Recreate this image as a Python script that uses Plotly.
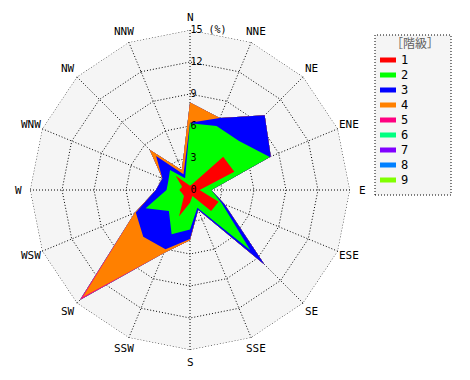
import numpy as np
import plotly.graph_objects as go

directions = ["N", "NNE", "NE", "ENE", "E", "ESE", "SE", "SSE",
              "S", "SSW", "SW", "WSW", "W", "WNW", "NW", "NNW"]

class_names = ["1", "2", "3", "4", "5", "6", "7", "8", "9"]
class_colors = ["#FF0000", "#00FF00", "#0000FF", "#FF8000", "#FF0080",
                "#00FF80", "#8000FF", "#0080FF", "#80FF00"]

# frequency (%) of each class per direction
class1 = [0.4, 0.6, 4.4, 4.5, 0.9, 2.9, 2.8, 0.6, 1.2, 2.7, 0.8, 0.8, 1.0, 0.8, 1.9, 0.6]
class2 = [5.85, 5.9, 2.1, 3.6, 1.1, 0.3, 5.2, 1.2, 2.5, 1.8, 2.0, 3.7, 1.2, 1.4, 0.75, 0.6]
class3 = [0.05, 0.8, 3.4, 0.1, 0.0, 0.3, 1.9, 0.2, 0.9, 1.5, 3.4, 1.0, 1.0, 0.6, 1.85, 0.4]
class4 = [1.9, 0.0, 0.0, 0.0, 0.0, 0.0, 0.0, 0.0, 0.1, 0.4, 8.0, 0.1, 0.0, 0.0, 0.85, 0.4]
class5 = [0.0, 0.0, 0.0, 0.0, 0.0, 0.0, 0.0, 0.0, 0.0, 0.0, 0.4, 0.0, 0.0, 0.0, 0.0, 0.0]
class6 = [0.0] * 16
class7 = [0.0] * 16
class8 = [0.0] * 16
class9 = [0.0] * 16

radial_ticks = [0, 3, 6, 9, 12, 15]
radial_ticktext = ["0", "3", "6", "9", "12", "15 (%)"]

classes = [class1, class2, class3, class4, class5, class6, class7, class8, class9]
cum = np.cumsum(np.array(classes), axis=0)

FONT = "DejaVu Sans Mono"
DOT = "1px,2px"

fig = go.Figure()
for i in range(len(classes) - 1, -1, -1):
    r = list(cum[i]) + [cum[i][0]]
    th = directions + [directions[0]]
    fig.add_trace(go.Scatterpolar(
        r=r, theta=th, mode="lines", fill="toself",
        fillcolor=class_colors[i], line=dict(width=0, color=class_colors[i]),
        name=class_names[i], showlegend=False, hoverinfo="skip"))

# dotted outer frame at the top of the radial range
fig.add_trace(go.Scatterpolar(
    r=[radial_ticks[-1]] * (len(directions) + 1), theta=directions + [directions[0]],
    mode="lines", line=dict(color="black", width=1, dash=DOT),
    showlegend=False, hoverinfo="skip"))

# the page body adds an 8px margin; lay the figure out in page pixels minus that
OFF = 8
W, H = 470 - OFF, 380 - OFF
CX, CY, R = 190, 190, 160   # page pixels
cx, cy = CX - OFF, CY - OFF


def px(x):
    return (x - OFF) / W


def py(y):
    return 1 - (y - OFF) / H


fig.update_layout(
    width=W, height=H,
    margin=dict(l=0, r=0, t=0, b=0, autoexpand=False),
    paper_bgcolor="white",
    font=dict(family=FONT, size=11, color="black"),
    polar=dict(
        domain=dict(x=[(cx - R) / W, (cx + R) / W], y=[1 - (cy + R) / H, 1 - (cy - R) / H]),
        bgcolor="#F5F5F5",
        gridshape="linear",
        angularaxis=dict(
            type="category", categoryarray=directions,
            rotation=90, direction="clockwise",
            showline=False, gridcolor="black", griddash=DOT, gridwidth=1,
            ticks="", showticklabels=False,
        ),
        radialaxis=dict(
            range=[0, 15], angle=90, tickangle=90,
            tickvals=radial_ticks, ticktext=radial_ticktext,
            showline=False, ticks="",
            gridcolor="black", griddash=DOT, gridwidth=1,
            tickfont=dict(family=FONT, size=10, color="black"),
        ),
    ),
)

# direction labels placed just outside the frame
LABEL_R = 172
for k, d in enumerate(directions):
    a = np.deg2rad(360 / len(directions) * k)
    fig.add_annotation(x=px(CX + LABEL_R * np.sin(a)), y=py(CY - LABEL_R * np.cos(a)),
                       xref="paper", yref="paper", text=d, showarrow=False,
                       xanchor="center", yanchor="middle",
                       font=dict(family=FONT, size=11, color="black"))

# legend box (drawn manually to match the small bars of the original)
lx0, lx1, ly0, ly1 = 375, 451, 35, 195
fig.add_shape(type="rect", xref="paper", yref="paper",
              x0=px(lx0), x1=px(lx1), y0=py(ly1), y1=py(ly0),
              line=dict(color="black", width=1, dash=DOT), fillcolor="#F5F5F5", layer="below")
fig.add_annotation(x=px(415), y=py(42), xref="paper", yref="paper",
                   text="［階級］", showarrow=False, xanchor="center", yanchor="middle",
                   font=dict(family="Noto Sans CJK JP", size=12, color="#606060"))
for k, (nm, col) in enumerate(zip(class_names, class_colors)):
    yc = 60 + 15 * k
    fig.add_shape(type="rect", xref="paper", yref="paper",
                  x0=px(380), x1=px(396), y0=py(yc + 2.5), y1=py(yc - 2.5),
                  line=dict(width=0), fillcolor=col)
    fig.add_annotation(x=px(399), y=py(yc), xref="paper", yref="paper",
                       text=nm, showarrow=False, xanchor="left", yanchor="middle",
                       font=dict(family=FONT, size=12, color="black"))

fig.write_html("out.html")
